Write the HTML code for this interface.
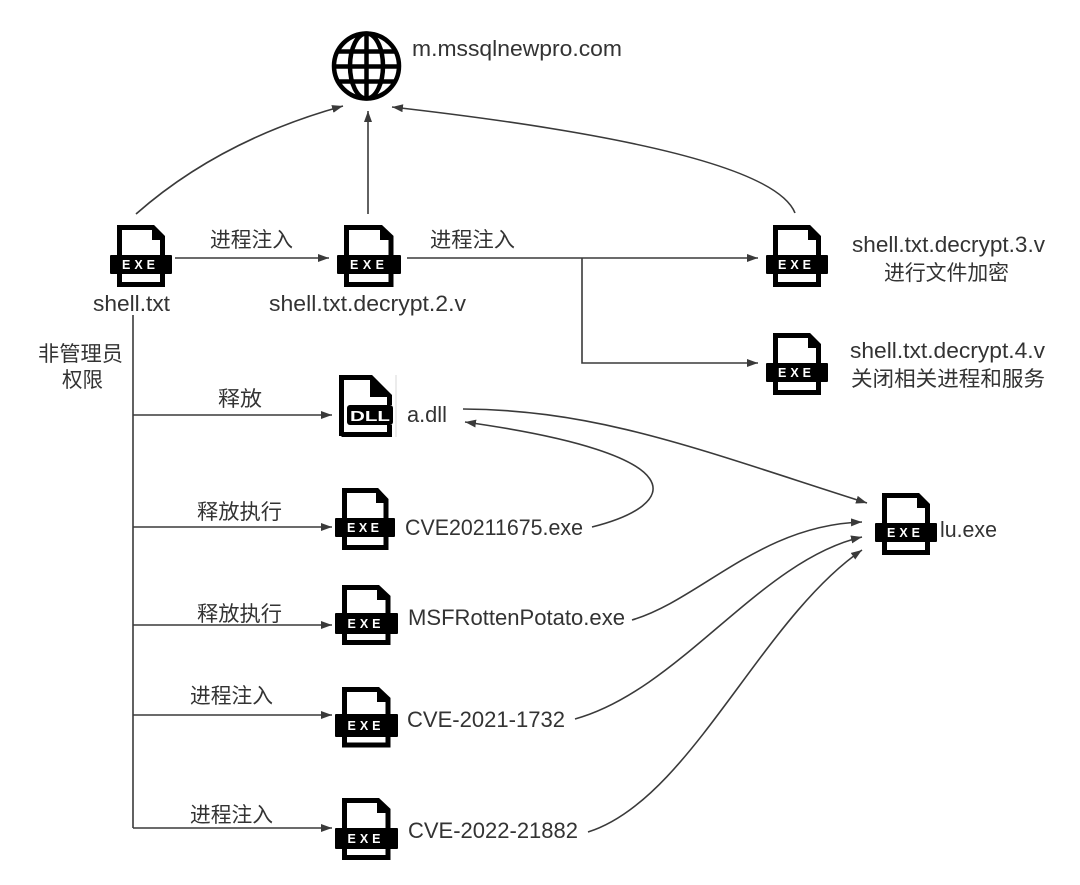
<!DOCTYPE html>
<html>
<head>
<meta charset="utf-8">
<style>
html,body{margin:0;padding:0;background:#fff;}
svg{display:block;}
.t{font-family:"Liberation Sans","Noto Sans CJK SC",sans-serif;fill:#333;}
.c{font-family:"Liberation Sans","Noto Sans CJK SC",sans-serif;fill:#333;font-size:21px;}
.ln{fill:none;stroke:#3a3a3a;stroke-width:1.6;}
.ex{font-family:"Liberation Sans",sans-serif;font-weight:bold;font-size:12.5px;fill:#fff;}
</style>
</head>
<body>
<svg width="1080" height="885" viewBox="0 0 1080 885" xmlns="http://www.w3.org/2000/svg">
<defs>
<marker id="a" markerWidth="11" markerHeight="8" refX="11" refY="4" orient="auto" markerUnits="userSpaceOnUse">
<path d="M0,0 L11,4 L0,8 z" fill="#3a3a3a"/>
</marker>
</defs>

<!-- Globe -->
<g fill="none" stroke="#000" stroke-width="4.5">
<circle cx="366.5" cy="66" r="32.5"/>
<ellipse cx="366.5" cy="66" rx="16.5" ry="32.5"/>
<line x1="366.5" y1="34" x2="366.5" y2="98"/>
<line x1="334" y1="66.5" x2="399" y2="66.5"/>
<line x1="338" y1="51.5" x2="395" y2="51.5"/>
<line x1="338" y1="81.5" x2="395" y2="81.5"/>
</g>
<text class="t" x="412" y="56" font-size="22" textLength="210" lengthAdjust="spacingAndGlyphs">m.mssqlnewpro.com</text>

<!-- connectors -->
<path class="ln" d="M136 214 Q 220 140 343 106" marker-end="url(#a)"/>
<path class="ln" d="M368 214 V111" marker-end="url(#a)"/>
<path class="ln" d="M795 213 Q 770 150 392 107" marker-end="url(#a)"/>
<path class="ln" d="M175 258 H329" marker-end="url(#a)"/>
<path class="ln" d="M407 258 H758" marker-end="url(#a)"/>
<path class="ln" d="M582 258 V363 H758" marker-end="url(#a)"/>
<path class="ln" d="M133 315 V828"/>
<path class="ln" d="M133 415 H332" marker-end="url(#a)"/>
<path class="ln" d="M133 527 H332" marker-end="url(#a)"/>
<path class="ln" d="M133 625 H332" marker-end="url(#a)"/>
<path class="ln" d="M133 715 H332" marker-end="url(#a)"/>
<path class="ln" d="M133 828 H332" marker-end="url(#a)"/>
<path class="ln" d="M463 409 C 600 410, 700 450, 867 503" marker-end="url(#a)"/>
<path class="ln" d="M592 527 C 680 505, 700 455, 465 422" marker-end="url(#a)"/>
<path class="ln" d="M632 620 C 700 600, 760 525, 862 522" marker-end="url(#a)"/>
<path class="ln" d="M575 719 C 680 690, 760 560, 862 537" marker-end="url(#a)"/>
<path class="ln" d="M588 832 C 690 800, 760 620, 862 550" marker-end="url(#a)"/>

<!-- connector labels -->
<text class="c" x="210" y="247" textLength="83" lengthAdjust="spacingAndGlyphs">进程注入</text>
<text class="c" x="430" y="247" textLength="85" lengthAdjust="spacingAndGlyphs">进程注入</text>
<text class="c" x="38" y="361" textLength="85" lengthAdjust="spacingAndGlyphs">非管理员</text>
<text class="c" x="62" y="387" textLength="41" lengthAdjust="spacingAndGlyphs">权限</text>
<text class="c" x="218" y="406" textLength="44" lengthAdjust="spacingAndGlyphs">释放</text>
<text class="c" x="197" y="519" textLength="85" lengthAdjust="spacingAndGlyphs">释放执行</text>
<text class="c" x="197" y="621" textLength="85" lengthAdjust="spacingAndGlyphs">释放执行</text>
<text class="c" x="190" y="703" textLength="83" lengthAdjust="spacingAndGlyphs">进程注入</text>
<text class="c" x="190" y="822" textLength="83" lengthAdjust="spacingAndGlyphs">进程注入</text>

<!-- EXE icons -->
<g transform="translate(110,225)">
<rect x="0" y="30" width="62" height="19" rx="1" fill="#000"/>
<path d="M9.5 30 V2.5 H43 L52.5 12 V30" fill="none" stroke="#000" stroke-width="5"/>
<path d="M42 3 V15 H53 Z" fill="#000"/>
<path d="M9.5 49 V59.5 H52.5 V49" fill="none" stroke="#000" stroke-width="5"/>
<text class="ex" x="12" y="44" textLength="33" lengthAdjust="spacing">EXE</text>
</g>
<g transform="translate(337,225)">
<rect x="0" y="30" width="64" height="19" rx="1" fill="#000"/>
<path d="M9.5 30 V2.5 H44 L54 12 V30" fill="none" stroke="#000" stroke-width="5"/>
<path d="M43 3 V15 H54.5 Z" fill="#000"/>
<path d="M9.5 49 V59.5 H54 V49" fill="none" stroke="#000" stroke-width="5"/>
<text class="ex" x="13" y="44" textLength="34" lengthAdjust="spacing">EXE</text>
</g>
<g transform="translate(766,225)">
<rect x="0" y="30" width="62" height="19" rx="1" fill="#000"/>
<path d="M9.5 30 V2.5 H43 L52.5 12 V30" fill="none" stroke="#000" stroke-width="5"/>
<path d="M42 3 V15 H53 Z" fill="#000"/>
<path d="M9.5 49 V59.5 H52.5 V49" fill="none" stroke="#000" stroke-width="5"/>
<text class="ex" x="12" y="44" textLength="33" lengthAdjust="spacing">EXE</text>
</g>
<g transform="translate(766,333)">
<rect x="0" y="30" width="62" height="19" rx="1" fill="#000"/>
<path d="M9.5 30 V2.5 H43 L52.5 12 V30" fill="none" stroke="#000" stroke-width="5"/>
<path d="M42 3 V15 H53 Z" fill="#000"/>
<path d="M9.5 49 V59.5 H52.5 V49" fill="none" stroke="#000" stroke-width="5"/>
<text class="ex" x="12" y="44" textLength="33" lengthAdjust="spacing">EXE</text>
</g>
<g transform="translate(335,488)">
<rect x="0" y="30" width="60" height="19" rx="1" fill="#000"/>
<path d="M9.5 30 V2.5 H42 L51 12 V30" fill="none" stroke="#000" stroke-width="5"/>
<path d="M41 3 V15 H51.5 Z" fill="#000"/>
<path d="M9.5 49 V59.5 H51 V49" fill="none" stroke="#000" stroke-width="5"/>
<text class="ex" x="12" y="44" textLength="32" lengthAdjust="spacing">EXE</text>
</g>
<g transform="translate(335,585)">
<rect x="0" y="28" width="63" height="21" rx="1" fill="#000"/>
<path d="M9.5 28 V2.5 H43 L53 12 V28" fill="none" stroke="#000" stroke-width="5"/>
<path d="M42 3 V15 H53.5 Z" fill="#000"/>
<path d="M9.5 49 V57.5 H53 V49" fill="none" stroke="#000" stroke-width="5"/>
<text class="ex" x="12.5" y="43" textLength="33" lengthAdjust="spacing">EXE</text>
</g>
<g transform="translate(335,687)">
<rect x="0" y="27" width="63" height="23" rx="1" fill="#000"/>
<path d="M9.5 27 V2.5 H43 L53 12 V27" fill="none" stroke="#000" stroke-width="5"/>
<path d="M42 3 V15 H53.5 Z" fill="#000"/>
<path d="M9.5 50 V58 H53 V50" fill="none" stroke="#000" stroke-width="5"/>
<text class="ex" x="12.5" y="43" textLength="33" lengthAdjust="spacing">EXE</text>
</g>
<g transform="translate(335,798)">
<rect x="0" y="30" width="63" height="21" rx="1" fill="#000"/>
<path d="M9.5 30 V2.5 H43 L53 12 V30" fill="none" stroke="#000" stroke-width="5"/>
<path d="M42 3 V15 H53.5 Z" fill="#000"/>
<path d="M9.5 51 V59.5 H53 V51" fill="none" stroke="#000" stroke-width="5"/>
<text class="ex" x="12.5" y="45" textLength="33" lengthAdjust="spacing">EXE</text>
</g>
<g transform="translate(875,493)">
<rect x="0" y="30" width="62" height="19" rx="1" fill="#000"/>
<path d="M9.5 30 V2.5 H43 L52.5 12 V30" fill="none" stroke="#000" stroke-width="5"/>
<path d="M42 3 V15 H53 Z" fill="#000"/>
<path d="M9.5 49 V59.5 H52.5 V49" fill="none" stroke="#000" stroke-width="5"/>
<text class="ex" x="12" y="44" textLength="33" lengthAdjust="spacing">EXE</text>
</g>

<!-- DLL icon -->
<g>
<path d="M341.5 436 V377.5 H371 L389.5 396 V405" fill="none" stroke="#000" stroke-width="5"/>
<path d="M370 378 V397 H390 Z" fill="#000"/>
<path d="M341.5 434.5 H389.5 V425" fill="none" stroke="#000" stroke-width="5"/>
<rect x="347" y="405" width="46" height="20" rx="3" fill="#000"/>
<text x="350" y="421" font-family="Liberation Sans, sans-serif" font-weight="bold" font-size="15" fill="#fff" textLength="40" lengthAdjust="spacingAndGlyphs">DLL</text>
<line x1="396" y1="375" x2="396" y2="437" stroke="#d8d8d8" stroke-width="1"/>
</g>

<!-- node labels -->
<text class="t" x="93" y="311" font-size="22" textLength="77" lengthAdjust="spacingAndGlyphs">shell.txt</text>
<text class="t" x="269" y="311" font-size="22" textLength="197" lengthAdjust="spacingAndGlyphs">shell.txt.decrypt.2.v</text>
<text class="t" x="852" y="252" font-size="22" textLength="193" lengthAdjust="spacingAndGlyphs">shell.txt.decrypt.3.v</text>
<text class="c" x="884" y="280" textLength="125" lengthAdjust="spacingAndGlyphs">进行文件加密</text>
<text class="t" x="850" y="358" font-size="22" textLength="195" lengthAdjust="spacingAndGlyphs">shell.txt.decrypt.4.v</text>
<text class="c" x="851" y="386" textLength="194" lengthAdjust="spacingAndGlyphs">关闭相关进程和服务</text>
<text class="t" x="407" y="422" font-size="22" textLength="40" lengthAdjust="spacingAndGlyphs">a.dll</text>
<text class="t" x="405" y="535" font-size="22" textLength="178" lengthAdjust="spacingAndGlyphs">CVE20211675.exe</text>
<text class="t" x="408" y="625" font-size="22" textLength="217" lengthAdjust="spacingAndGlyphs">MSFRottenPotato.exe</text>
<text class="t" x="407" y="727" font-size="22" textLength="158" lengthAdjust="spacingAndGlyphs">CVE-2021-1732</text>
<text class="t" x="408" y="838" font-size="22" textLength="170" lengthAdjust="spacingAndGlyphs">CVE-2022-21882</text>
<text class="t" x="940" y="537" font-size="22" textLength="57" lengthAdjust="spacingAndGlyphs">lu.exe</text>
</svg>
</body>
</html>
